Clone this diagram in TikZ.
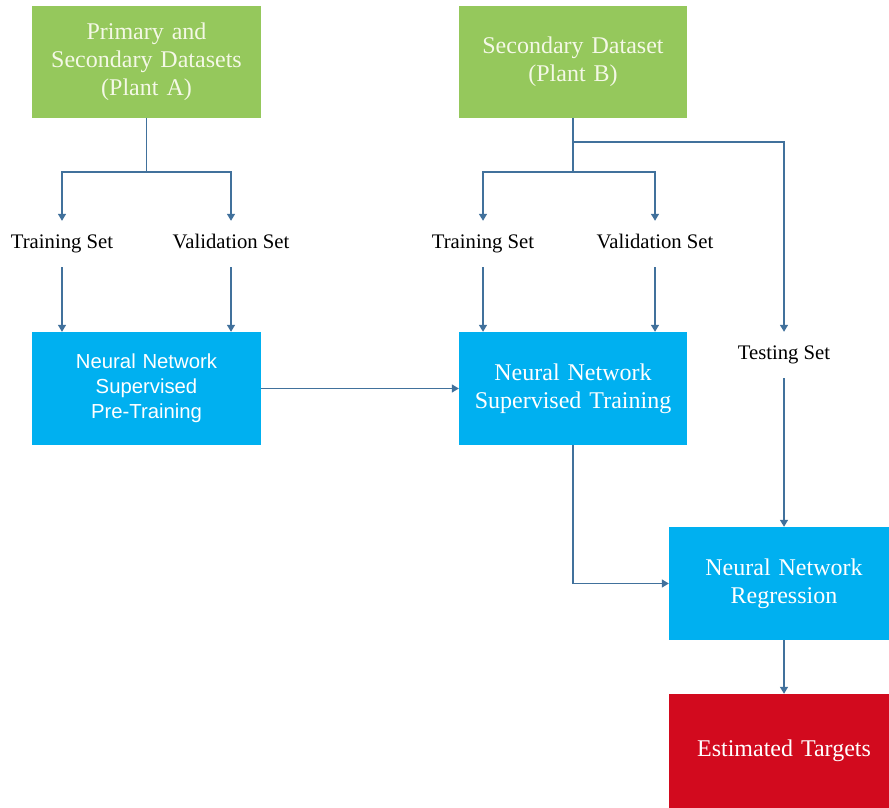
\documentclass[tikz,border=0pt]{standalone}
\usepackage{fontspec}
\setmainfont{Liberation Serif}
\setsansfont{Liberation Sans}
\usetikzlibrary{arrows.meta}
\definecolor{boxgreen}{HTML}{95C85C}
\definecolor{boxblue}{HTML}{00B0F0}
\definecolor{boxred}{HTML}{D20A1E}
\definecolor{linkblue}{HTML}{41719C}
\definecolor{paletext}{HTML}{F4F8E6}
\begin{document}
\begin{tikzpicture}[x=1pt,y=-1pt,
  box/.style={rectangle,inner sep=0pt,align=center,text width=#1},
  greenbox/.style={box=220pt,fill=boxgreen,minimum width=229pt,minimum height=112pt,
    text=paletext,font=\fontsize{24}{28}\selectfont},
  bluebox/.style={box=215pt,fill=boxblue,minimum width=229pt,minimum height=113pt,
    text=white,font=\fontsize{24}{28}\selectfont},
  bluesans/.style={bluebox,font=\sffamily\fontsize{20.3}{25}\selectfont},
  redbox/.style={box=215pt,fill=boxred,minimum width=230pt,minimum height=114pt,
    text=white,font=\fontsize{24}{28}\selectfont},
  setlabel/.style={inner sep=0pt,minimum height=46pt,text height=14pt,text depth=5pt,
    font=\fontsize{20.7}{24}\selectfont},
  arr/.style={draw=linkblue,line width=1.3pt,-{Triangle[width=8pt,length=7pt]}},
  link/.style={draw=linkblue,line width=1.3pt}]
\useasboundingbox (0,0) rectangle (889,808);

% source datasets
\node[greenbox] (gA) at (146.5,62) {Primary and\\Secondary Datasets\\(Plant A)};
\node[greenbox,minimum width=228pt] (gB) at (573,62) {Secondary Dataset\\(Plant B)};

% data splits
\node[setlabel] (trA) at (62,244) {Training Set};
\node[setlabel] (vaA) at (231,244) {Validation Set};
\node[setlabel] (trB) at (483,244) {Training Set};
\node[setlabel] (vaB) at (655,244) {Validation Set};
\node[setlabel] (tst) at (784,355) {Testing Set};

% networks
\node[bluesans] (bA) at (146.5,388.5) {Neural Network\\Supervised\\Pre-Training};
\node[bluebox,minimum width=228pt] (bB) at (573,388.5) {Neural Network\\Supervised Training};
\node[bluebox,minimum width=230pt] (bC) at (784,583.5) {Neural Network\\Regression};
\node[redbox] (res) at (784,751) {Estimated Targets};

% branch points
\coordinate (sA) at (146.5,172);
\coordinate (sB) at (573,172);
\coordinate (tB) at (573,142);

% plant A split
\draw[link] (gA.south) -- (sA);
\draw[arr] (sA) -| (trA.north);
\draw[arr] (sA) -| (vaA.north);
\draw[arr] (trA.south) -- (trA.south |- bA.north);
\draw[arr] (vaA.south) -- (vaA.south |- bA.north);

% plant B split
\draw[link] (gB.south) -- (sB);
\draw[arr] (sB) -| (trB.north);
\draw[arr] (sB) -| (vaB.north);
\draw[arr] (tB) -| (tst.north);
\draw[arr] (trB.south) -- (trB.south |- bB.north);
\draw[arr] (vaB.south) -- (vaB.south |- bB.north);

% training flow
\draw[arr] (bA.east) -- (bB.west);
\draw[arr] (bB.south) |- (bC.west);
\draw[arr] (tst.south) -- (bC.north);
\draw[arr] (bC.south) -- (res.north);
\end{tikzpicture}
\end{document}
